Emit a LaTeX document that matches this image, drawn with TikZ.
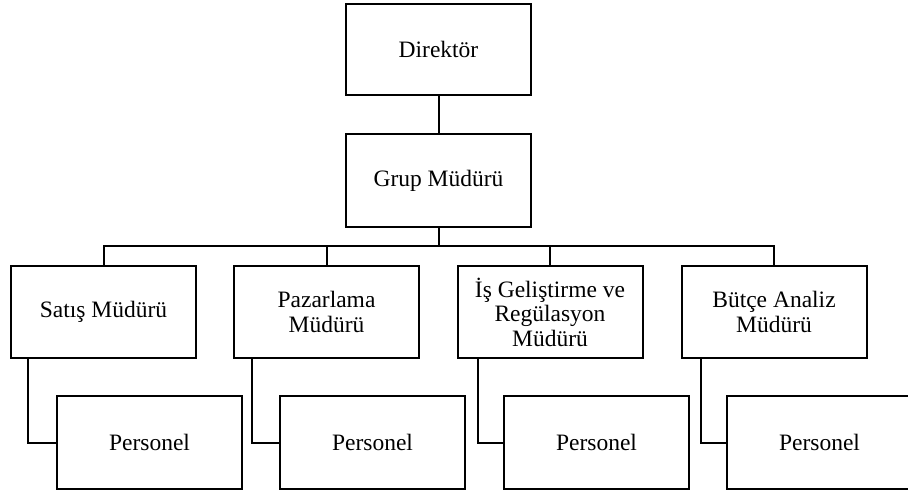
\documentclass[tikz,border=0pt]{standalone}
\usepackage{fontspec}
\setmainfont{Liberation Serif}
\begin{document}
\begin{tikzpicture}[x=1pt,y=-1pt,
  box/.style={draw=black,line width=2pt,rectangle,minimum width=185pt,minimum height=92pt,inner sep=0pt,align=center,
    font=\fontsize{23.5pt}{24.5pt}\selectfont},
  conn/.style={draw=black,line width=2pt}]
\clip (0,0) rectangle (908,496);
\fill[white] (0,0) rectangle (908,496);
\node[box,minimum height=91pt] (dir) at (438.5,49.5) {Direktör};
\node[box,minimum height=93pt] (grup) at (438.5,180.5) {Grup Müdürü};
\coordinate (bus) at (438.5,246);
\node[box] (m1) at (103.5,312) {Satış Müdürü};
\node[box] (m2) at (326.5,312) {Pazarlama\\Müdürü};
\node[box] (m3) at (550,312) {İş Geliştirme ve\\Regülasyon\\Müdürü};
\node[box] (m4) at (774,312) {Bütçe Analiz\\Müdürü};
\node[box,minimum height=93pt] (p1) at (149.5,442.5) {Personel};
\node[box,minimum height=93pt] (p2) at (372.5,442.5) {Personel};
\node[box,minimum height=93pt] (p3) at (596.5,442.5) {Personel};
\node[box,minimum height=93pt] (p4) at (819.5,442.5) {Personel};
\draw[conn] (dir) -- (grup);
\draw[conn] (grup.south) -- (bus);
\draw[conn] (m1.north) -- (m1.north |- bus) -- (m4.north |- bus) -- (m4.north);
\draw[conn] (m2.north) -- (m2.north |- bus);
\draw[conn] (m3.north) -- (m3.north |- bus);
\draw[conn] ([xshift=18pt]m1.south west) |- (p1.west);
\draw[conn] ([xshift=19pt]m2.south west) |- (p2.west);
\draw[conn] ([xshift=21pt]m3.south west) |- (p3.west);
\draw[conn] ([xshift=20pt]m4.south west) |- (p4.west);
\end{tikzpicture}
\end{document}
